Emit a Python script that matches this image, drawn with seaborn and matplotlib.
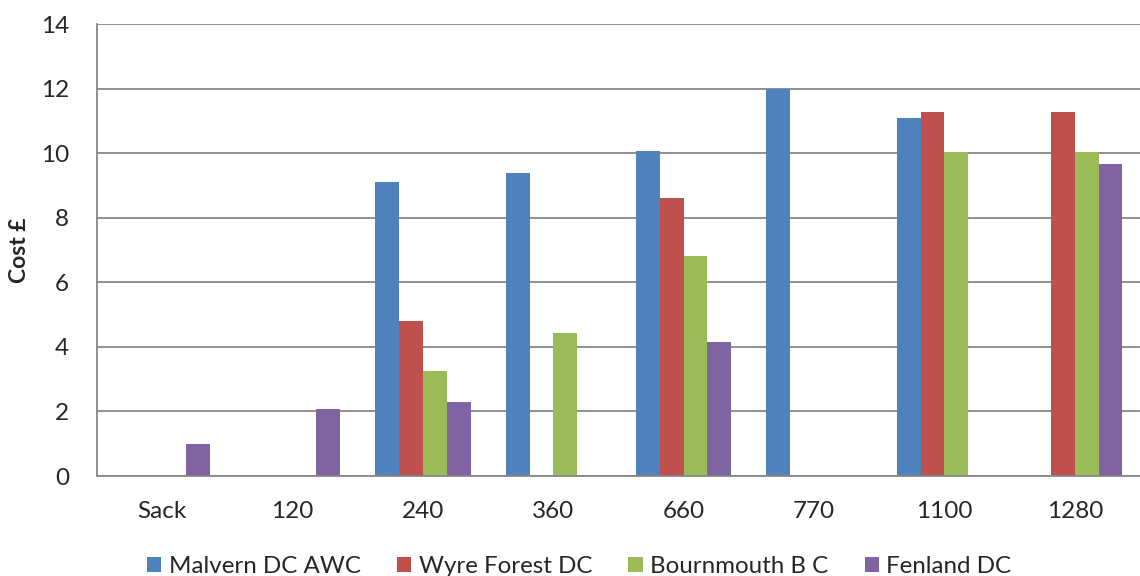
import numpy as np
import pandas as pd
import matplotlib
matplotlib.use("Agg")
import matplotlib.pyplot as plt
import seaborn as sns

# Bin sizes (litres) and the cost of each council's collection service
categories = ["Sack", "120", "240", "360", "660", "770", "1100", "1280"]
series_names = ["Malvern DC AWC", "Wyre Forest DC", "Bournmouth B C", "Fenland DC"]
malvern = [np.nan, np.nan, 9.10, 9.38, 10.06, 12.00, 11.08, np.nan]
wyre = [np.nan, np.nan, 4.79, np.nan, 8.62, np.nan, 11.28, 11.28]
bournemouth = [np.nan, np.nan, 3.24, 4.43, 6.83, np.nan, 10.03, 10.03]
fenland = [1.00, 2.07, 2.30, np.nan, 4.15, np.nan, np.nan, 9.67]
colors = ["#4F81BD", "#C0504D", "#9BBB59", "#8064A2"]
y_ticks = [0, 2, 4, 6, 8, 10, 12, 14]

rows = []
for name, vals in zip(series_names, [malvern, wyre, bournemouth, fenland]):
    for cat, v in zip(categories, vals):
        rows.append({"Size": cat, "Council": name, "Cost": v})
df = pd.DataFrame(rows)

sns.set_style("white")
plt.rcParams["font.family"] = ["Lato", "DejaVu Sans"]

fig = plt.figure(figsize=(11.4, 5.76), dpi=100)
ax = fig.add_axes([0.0851, 0.1736, 0.9149, 0.7847])

sns.barplot(data=df, x="Size", y="Cost", hue="Council", order=categories,
            hue_order=series_names, palette=colors, width=0.73,
            linewidth=0, saturation=1, ax=ax, legend=True)

ax.set_ylim(0, 14)
ax.set_xlim(-0.5, len(categories) - 0.5)
ax.set_yticks(y_ticks)
ax.set_yticklabels([str(t) for t in y_ticks])
ax.yaxis.grid(True, color="#878787", linewidth=1.3)
ax.set_axisbelow(True)
ax.tick_params(axis="y", length=0, pad=20, labelsize=17.5)
ax.tick_params(axis="x", length=0, pad=18, labelsize=17.5)
ax.set_xlabel("")
ax.set_ylabel("Cost £", fontsize=16.5, fontweight="bold")
ax.yaxis.set_label_coords(-0.064, 0.5)

for side in ["top", "right"]:
    ax.spines[side].set_visible(False)
for side in ["left", "bottom"]:
    ax.spines[side].set_color("#878787")
    ax.spines[side].set_linewidth(1.3)

handles, labels = ax.get_legend_handles_labels()
ax.get_legend().remove()
fig.legend(handles, labels, loc="center", bbox_to_anchor=(0.508, 0.017),
           ncol=4, frameon=False, fontsize=17.4, handlelength=0.6,
           handleheight=0.6, handletextpad=0.3, columnspacing=1.5)

fig.savefig("out.png", dpi=100)
